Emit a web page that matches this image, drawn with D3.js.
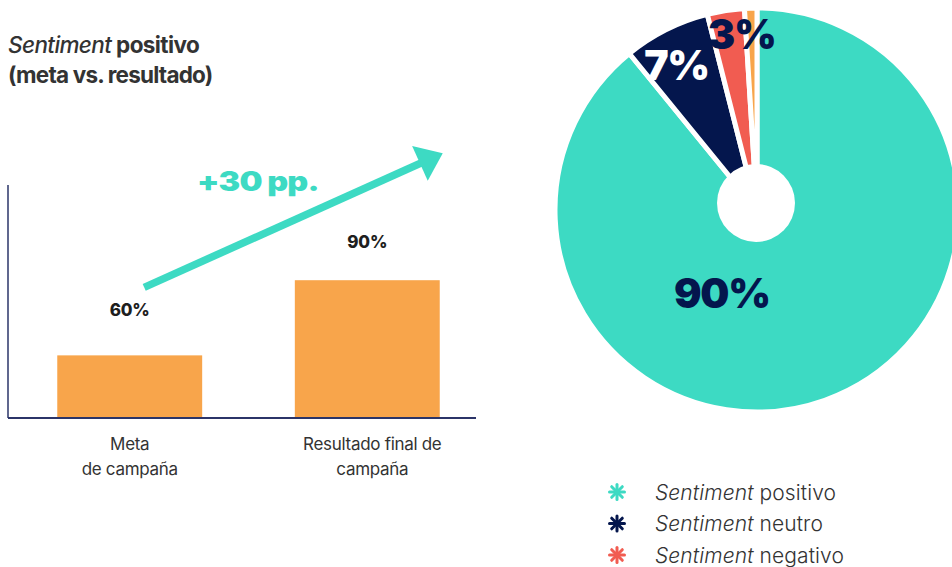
<!DOCTYPE html>
<html>
<head>
<meta charset="utf-8">
<script src="https://cdn.jsdelivr.net/npm/d3@7/dist/d3.min.js"></script>
<style>
  html, body { margin: 0; padding: 0; background: #fff; }
  svg { display: block; font-family: Inter, "Noto Sans", sans-serif; }
</style>
</head>
<body>
<svg id="chart" width="952" height="567"></svg>
<script>
// Bar chart: goal vs. final result of positive sentiment
const barCategories = [["Meta", "de campaña"], ["Resultado final de", "campaña"]];
const barValues = [60, 90];
const barLabels = ["60%", "90%"];
const deltaLabel = "+30 pp.";

// Donut: sentiment breakdown
const sliceNames = ["Sentiment positivo", "Sentiment neutro", "Sentiment negativo", "Sin clasificar"];
const sliceValues = [90, 7, 3, 1];
const sliceLabels = ["90%", "7%", "3%", null];

// Legend entries (first word italic)
const legendItems = [["Sentiment", " positivo"], ["Sentiment", " neutro"], ["Sentiment", " negativo"]];

const colors = ["#3ddac3", "#04164d", "#f15c51", "#f8a54b"];
const barColor = "#f8a54b";
const axisColor = "#2b3468";
const textColor = "#333333";

const svg = d3.select("#chart");

// ---------- Title ----------
const title = svg.append("text").attr("x", 8).attr("y", 53)
  .attr("fill", textColor).attr("font-size", 22.5).attr("font-weight", 700)
  .attr("letter-spacing", -0.6);
title.append("tspan").attr("font-style", "italic").attr("font-weight", 500).text("Sentiment");
title.append("tspan").text(" positivo");
svg.append("text").attr("x", 8).attr("y", 83)
  .attr("fill", textColor).attr("font-size", 22.5).attr("font-weight", 700)
  .attr("letter-spacing", -0.8).text("(meta vs. resultado)");

// ---------- Bars ----------
const x = d3.scaleBand().domain(d3.range(barValues.length))
  .range([14.5, 482.5]).paddingInner(0.39).paddingOuter(0.18);
const y = d3.scaleLinear().domain([35, 128]).range([418, 185]);

svg.append("g").selectAll("rect").data(barValues).join("rect")
  .attr("x", (d, i) => x(i)).attr("width", x.bandwidth())
  .attr("y", d => y(d)).attr("height", d => y.range()[0] - y(d))
  .attr("fill", barColor);

// axes (no ticks)
svg.append("line").attr("x1", 8).attr("x2", 8).attr("y1", y.range()[1]).attr("y2", y.range()[0])
  .attr("stroke", axisColor).attr("stroke-width", 1.5);
svg.append("line").attr("x1", 8).attr("x2", 476).attr("y1", y.range()[0]).attr("y2", y.range()[0])
  .attr("stroke", axisColor).attr("stroke-width", 1.8);

// value labels
svg.append("g").selectAll("text").data(barValues).join("text")
  .attr("x", (d, i) => x(i) + x.bandwidth() / 2)
  .attr("y", (d, i) => y(d) - (i === 0 ? 39 : 32))
  .attr("text-anchor", "middle").attr("fill", "#1e1e1e")
  .attr("font-size", 17).attr("font-weight", 800).attr("letter-spacing", -0.2)
  .text((d, i) => barLabels[i]);

// category labels
const cat = svg.append("g").selectAll("text").data(barCategories).join("text")
  .attr("x", (d, i) => x(i) + x.bandwidth() / 2 + (i === 1 ? 5 : 0))
  .attr("y", 450).attr("text-anchor", "middle").attr("fill", textColor)
  .attr("font-size", 17).attr("font-weight", 400).attr("letter-spacing", -0.3);
cat.selectAll("tspan").data(d => d).join("tspan")
  .attr("x", function () { return this.parentNode.getAttribute("x"); })
  .attr("dy", (d, j) => j === 0 ? 0 : 25).text(d => d);

// growth arrow from goal to result
const x0 = x(0) + x.bandwidth() * 0.6, y0 = y(barValues[0]) - 68;
const x1 = x(1) + x.bandwidth() + 3, y1 = y(barValues[1]) - 127;
const len = Math.hypot(x1 - x0, y1 - y0);
const ux = (x1 - x0) / len, uy = (y1 - y0) / len;
const headLen = 25, headHalf = 19;
const bx = x1 - ux * headLen, by = y1 - uy * headLen;
svg.append("line").attr("x1", x0).attr("y1", y0).attr("x2", bx + ux * 3).attr("y2", by + uy * 3)
  .attr("stroke", colors[0]).attr("stroke-width", 7.5);
svg.append("path")
  .attr("d", d3.line()([[x1, y1], [bx - uy * headHalf, by + ux * headHalf], [bx + uy * headHalf, by - ux * headHalf]]) + "Z")
  .attr("fill", colors[0]);
svg.append("text").attr("transform", "translate(197,191) scale(1.2,1)").attr("fill", colors[0])
  .attr("font-size", 27).attr("font-weight", 900).attr("letter-spacing", -0.7)
  .text(deltaLabel);

// ---------- Donut ----------
const cx = 757, cy = 210, R = 202;
const pie = d3.pie().sort(null).value(d => d);
const arcs = pie(sliceValues);
const arc = d3.arc().innerRadius(0).outerRadius(R);
const g = svg.append("g").attr("transform", `translate(${cx},${cy})`);
g.selectAll("path").data(arcs).join("path")
  .attr("d", arc).attr("fill", (d, i) => colors[i])
  .attr("stroke", "#fff").attr("stroke-width", 5).attr("stroke-linejoin", "round");
g.append("circle").attr("cx", -1).attr("cy", -7).attr("r", 39).attr("fill", "#fff");

// slice labels, placed at polar positions
const labelPos = [[203, 90], [331, 166], [355, 176]];
const labelFill = ["#04164d", "#ffffff", "#04164d"];
g.selectAll("text.pct").data(arcs.filter((d, i) => sliceLabels[i])).join("text")
  .attr("class", "pct")
  .attr("x", (d, i) => labelPos[i][1] * Math.sin(labelPos[i][0] * Math.PI / 180))
  .attr("y", (d, i) => -labelPos[i][1] * Math.cos(labelPos[i][0] * Math.PI / 180))
  .attr("dy", "0.36em").attr("text-anchor", "middle")
  .attr("fill", (d, i) => labelFill[i])
  .attr("font-size", 41).attr("font-weight", 900).attr("letter-spacing", -1.3)
  .text((d, i) => sliceLabels[i]);

// ---------- Legend ----------
const legend = svg.append("g").selectAll("g").data(legendItems).join("g")
  .attr("transform", (d, i) => `translate(617,${492 + i * 31.5})`);
legend.each(function (d, i) {
  const s = d3.select(this);
  for (let k = 0; k < 4; k++) {
    const a = k * Math.PI / 4;
    s.append("line")
      .attr("x1", -7.5 * Math.cos(a)).attr("y1", -7.5 * Math.sin(a))
      .attr("x2", 7.5 * Math.cos(a)).attr("y2", 7.5 * Math.sin(a))
      .attr("stroke", colors[i]).attr("stroke-width", 3).attr("stroke-linecap", "round");
  }
});
const lt = legend.append("text").attr("x", 38).attr("y", 7.5)
  .attr("fill", textColor).attr("font-size", 21).attr("font-weight", 300).attr("letter-spacing", 0.1);
lt.append("tspan").attr("font-style", "italic").text(d => d[0]);
lt.append("tspan").text(d => d[1]);
</script>
</body>
</html>
